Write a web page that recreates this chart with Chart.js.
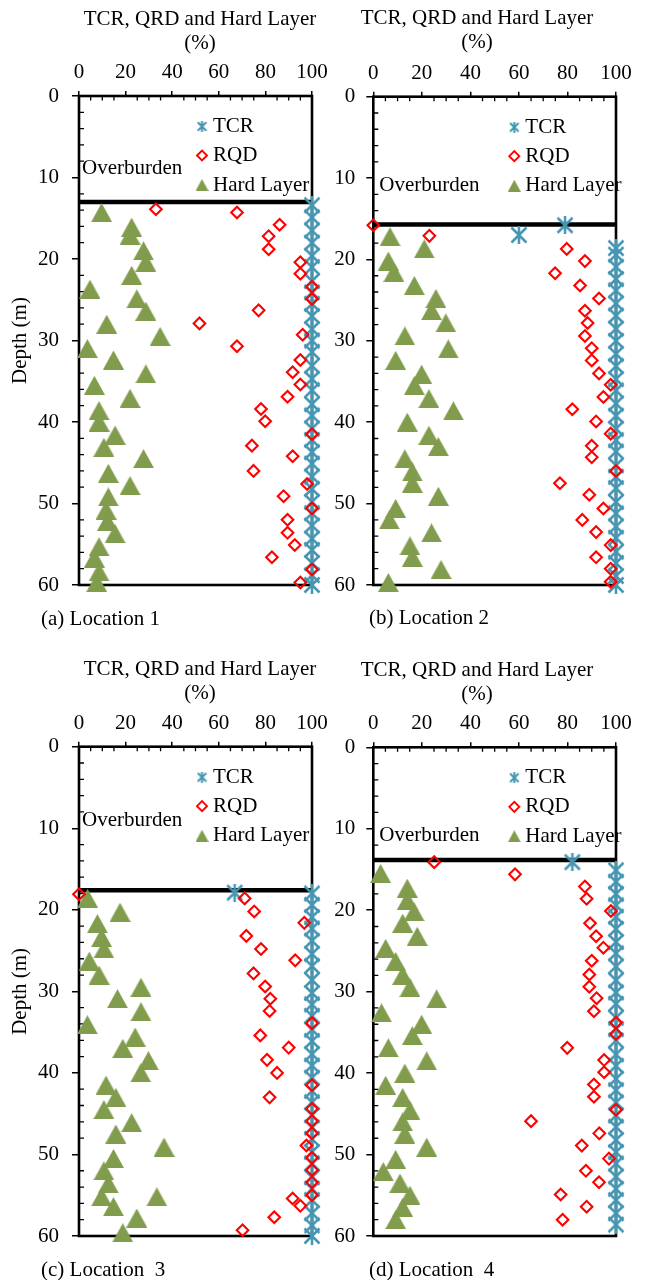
<!DOCTYPE html>
<html><head><meta charset="utf-8">
<script src="https://cdn.jsdelivr.net/npm/chart.js@4.4.1/dist/chart.umd.min.js"></script>
<style>
html,body{margin:0;padding:0;background:#fff;}
.wrap{position:relative;width:645px;height:1280px;overflow:hidden;background:#fff;}
canvas{position:absolute;}
.t{position:absolute;font-family:"Liberation Serif","Times New Roman",Times,serif;font-size:21px;line-height:24px;color:#000;white-space:pre;}
.xt{text-align:center;width:300px;}
</style></head>
<body><div class="wrap">
<canvas id="c1" width="340" height="640" style="left:0;top:0"></canvas>
<canvas id="c2" width="323" height="640" style="left:322px;top:0"></canvas>
<canvas id="c3" width="340" height="640" style="left:0;top:640px"></canvas>
<canvas id="c4" width="323" height="640" style="left:322px;top:640px"></canvas>
<div class="t xt" style="left:50px;top:6px">TCR, QRD and Hard Layer
(%)</div>
<div class="t xt" style="left:327px;top:5px">TCR, QRD and Hard Layer
(%)</div>
<div class="t xt" style="left:50px;top:656px">TCR, QRD and Hard Layer
(%)</div>
<div class="t xt" style="left:327px;top:657px">TCR, QRD and Hard Layer
(%)</div>
<div class="t" style="left:41px;top:606px">(a) Location 1</div>
<div class="t" style="left:369px;top:605px">(b) Location 2</div>
<div class="t" style="left:41px;top:1257px">(c) Location  3</div>
<div class="t" style="left:369px;top:1257px">(d) Location  4</div>
</div>
<script>
// ---------- tick labels ----------
const pctTicks = [0, 20, 40, 60, 80, 100];
const depthTicks = [0, 10, 20, 30, 40, 50, 60];
const seriesNames = ['TCR', 'RQD', 'Hard Layer'];
const zoneLabel = 'Overburden';
const overburden = [13.0, 15.7, 17.6, 13.85];

// ---------- Location 1 ----------
const tcrDepth1 = [13.4,14.9,16.5,18.0,19.6,21.0,22.7,24.1,25.5,27.0,28.6,30.0,31.4,33.1,34.7,36.1,37.8,39.2,40.8,42.2,43.7,45.1,46.7,48.2,49.8,51.2,52.7,54.3,55.7,57.3,58.8,60.0];
const tcr1 = [100,100,100,100,100,100,100,100,100,100,100,100,100,100,100,100,100,100,100,100,100,100,100,100,100,100,100,100,100,100,100,100];
const rqdDepth1 = [13.9,14.3,15.8,17.2,18.8,20.4,21.8,23.4,24.9,26.3,27.9,29.3,30.7,32.4,33.9,35.4,36.9,38.4,39.9,41.5,42.9,44.2,46.0,47.6,49.1,50.6,52.0,53.6,55.1,56.6,58.1,59.7];
const rqd1 = [33.0,67.8,86.1,81.4,81.4,95.0,95.0,100,100,77.1,51.7,96.0,67.8,95.0,91.7,95.0,89.5,78.1,79.9,100,74.2,91.7,74.9,97.9,87.8,100,89.5,89.5,92.6,82.8,100,95.0];
const hardDepth1 = [14.3,16.1,17.1,19.0,20.4,22.0,23.7,24.9,26.4,28.0,29.5,31.0,32.4,34.1,35.5,37.1,38.6,40.0,41.6,43.1,44.5,46.3,47.8,49.2,50.8,52.2,53.7,55.3,56.7,58.4,59.7];
const hard1 = [9.7,22.6,21.9,27.7,28.7,22.6,4.7,24.8,28.7,11.9,34.8,3.6,14.8,28.7,6.6,21.9,8.6,8.6,15.5,10.7,27.7,12.6,21.9,12.6,11.6,12.2,15.5,8.6,6.6,8.6,7.6];

// ---------- Location 2 ----------
const tcrDepth2 = [15.8,17.0,18.6,19.4,20.9,22.4,23.8,25.4,26.9,28.5,30.0,31.6,33.1,34.7,36.1,37.7,39.2,40.8,42.2,43.6,45.3,46.7,48.1,49.8,51.2,52.8,54.2,55.9,57.3,58.9,60.0];
const tcr2 = [79,60,100,100,100,100,100,100,100,100,100,100,100,100,100,100,100,100,100,100,100,100,100,100,100,100,100,100,100,100,100];
const rqdDepth2 = [15.8,17.1,18.7,20.2,21.7,23.2,24.8,26.3,27.8,29.4,30.9,32.4,34.0,35.4,36.9,38.4,39.9,41.4,42.9,44.3,46.0,47.5,48.9,50.6,52.0,53.5,55.1,56.6,58.0,59.6];
const rqd2 = [0,23.1,79.7,87.2,74.9,85.2,93.0,87.2,88.3,87.2,90,90,93,97.8,94.8,82,91.8,97.8,90,90,100,76.9,89,94.8,86.1,91.8,97.8,91.8,97.8,97.8];
const hardDepth2 = [17.2,18.7,20.2,21.6,23.2,24.8,26.3,27.8,29.4,31.0,32.4,34.1,35.5,37.1,38.6,40.0,41.6,43.0,44.5,46.1,47.5,49.1,50.6,52.0,53.6,55.2,56.6,58.1,59.7];
const hard2 = [6.9,21.0,6.2,8.5,16.9,25.8,24.0,29.9,13.0,30.9,9.2,19.9,16.9,22.9,33.0,14.0,22.9,26.8,13.0,16.1,16.1,26.8,9.2,6.6,24.0,15.1,16.1,27.9,6.2];

// ---------- Location 3 ----------
const tcrDepth3 = [17.9,18.0,19.4,20.9,22.3,23.8,25.4,26.9,28.6,30.2,31.6,33.0,34.7,36.1,37.7,39.1,40.6,42.2,43.6,45.2,46.7,48.1,49.7,51.1,52.8,54.2,55.6,57.2,58.7,60.0];
const tcr3 = [66.8,100,100,100,100,100,100,100,100,100,100,100,100,100,100,100,100,100,100,100,100,100,100,100,100,100,100,100,100,100];
const rqdDepth3 = [18.1,18.6,20.2,21.6,23.2,24.8,26.2,27.8,29.4,30.9,32.4,33.9,35.4,36.9,38.4,40.0,41.5,43.0,44.4,45.9,47.4,48.9,50.4,51.9,53.4,55.0,55.4,56.3,57.7,59.3];
const rqd3 = [0,71.1,75.2,96.7,71.8,78.1,92.8,74.9,79.9,82.1,81.8,100,77.8,90,80.7,85,100,81.8,100,100,100,97.6,100,100,100,100,91.7,95,83.8,70.2];
const hardDepth3 = [18.6,20.3,21.7,23.4,24.8,26.3,28.0,29.5,30.9,32.5,34.1,35.6,37.0,38.5,40.0,41.5,43.0,44.5,46.1,47.5,49.1,50.5,52.0,53.6,55.2,55.2,56.4,57.8,59.6];
const hard3 = [3.7,17.6,7.9,9.7,10.7,4.4,8.6,26.6,16.5,26.6,3.6,24.1,18.8,29.8,26.5,11.6,15.8,10.7,22.6,15.8,36.5,14.8,10.7,12.6,9.7,33.4,14.8,24.8,18.8];

// ---------- Location 4 ----------
const tcrDepth4 = [14.1,15.1,16.5,18.0,19.4,20.8,22.3,23.9,25.3,26.9,28.6,30.1,31.5,33.2,34.6,36.0,37.7,39.1,40.7,42.1,43.6,45.2,46.6,48.2,49.7,51.1,52.7,54.2,55.6,57.2,58.6];
const tcr4 = [82,100,100,100,100,100,100,100,100,100,100,100,100,100,100,100,100,100,100,100,100,100,100,100,100,100,100,100,100,100,100];
const rqdDepth4 = [14.1,15.6,17.1,18.6,20.1,21.6,23.2,24.6,26.2,27.9,29.4,30.8,32.4,33.8,35.2,36.9,38.4,39.9,41.4,42.9,44.5,45.9,47.4,48.9,50.5,52.0,53.4,54.9,56.4,58.0];
const rqd4 = [25.1,58.4,87.2,87.9,97.9,89.3,91.8,94.8,90,89,89,92,90.9,100,100,79.9,95.1,95.1,90.9,90.9,100,65,93.1,85.9,97.1,87.6,93,77.2,87.9,78];
const hardDepth4 = [15.5,17.3,18.8,20.2,21.6,23.2,24.7,26.3,28.0,29.5,30.9,32.6,34.0,35.4,36.9,38.5,40.0,41.5,43.0,44.6,46.0,47.5,49.1,50.6,52.1,53.5,55.0,56.5,58.0];
const hard4 = [3,14,14,16.8,12.1,18.1,5.1,9.2,12.1,15.1,26.1,3.4,19.9,16.1,6.2,22,13,5.1,12.1,15.1,12.1,13,22,9.2,4.1,11,15.1,12.1,9.2];

// ---------- styles ----------
const FONT_FAMILY = '"Liberation Serif", "Times New Roman", Times, serif';
const TEAL = '#4596b3', RED = '#ff0000', OLIVE = '#809c4c';

function starMarker(size, lw, color) {
  const c = document.createElement('canvas'); c.width = size; c.height = size;
  const g = c.getContext('2d'); g.strokeStyle = color; g.lineWidth = lw;
  const a = lw * 0.6, b = size - lw * 0.6;
  g.beginPath();
  g.moveTo(a, a); g.lineTo(b, b);
  g.moveTo(b, a); g.lineTo(a, b);
  g.moveTo(size / 2, 0); g.lineTo(size / 2, size);
  g.stroke();
  return c;
}
function triMarker(w, h, color) {
  const c = document.createElement('canvas'); c.width = w; c.height = h;
  const g = c.getContext('2d'); g.fillStyle = color;
  g.beginPath(); g.moveTo(w / 2, 0); g.lineTo(w, h); g.lineTo(0, h); g.closePath(); g.fill();
  return c;
}
const starBig = starMarker(18, 2.5, TEAL);
const starSmall = starMarker(11, 2, TEAL);
const triBig = triMarker(21, 19, OLIVE);
const triSmall = triMarker(13, 12, OLIVE);

const framePlugin = {
  id: 'frame',
  beforeDatasetsDraw(chart) {
    const ctx = chart.ctx, a = chart.chartArea;
    const xs = chart.scales.x, ys = chart.scales.y;
    ctx.save();
    ctx.strokeStyle = '#000';
    ctx.lineWidth = 1.3;
    ctx.beginPath();
    for (let v = 5; v < 100; v += 5) {
      if (v % 20 === 0) continue;
      const px = xs.getPixelForValue(v);
      ctx.moveTo(px, a.top); ctx.lineTo(px, a.top + 4.5);
    }
    for (let v = 2; v < 60; v += 2) {
      if (v % 10 === 0) continue;
      const py = ys.getPixelForValue(v);
      ctx.moveTo(a.left, py); ctx.lineTo(a.left + 5, py);
    }
    ctx.stroke();
    ctx.lineWidth = 2.6;
    ctx.strokeRect(a.left, a.top, a.right - a.left, a.bottom - a.top);
    ctx.restore();
  },
  afterDatasetsDraw(chart, args, opts) {
    const ctx = chart.ctx, a = chart.chartArea;
    ctx.save();
    ctx.font = '21px ' + FONT_FAMILY;
    ctx.fillStyle = '#000';
    ctx.textBaseline = 'middle';
    ctx.textAlign = 'left';
    // overburden label
    ctx.fillText(opts.zone, a.left + opts.obX, a.top + opts.obY);
    // legend
    const mx = a.left + opts.legX;
    const rows = [30.5, 59.5, 89];
    chart.data.datasets.slice(0, 3).forEach((ds, i) => {
      const my = a.top + rows[i];
      if (i === 0) ctx.drawImage(starSmall, mx - 5.5, my - 5.5);
      else if (i === 2) ctx.drawImage(triSmall, mx - 6.5, my - 6);
      else {
        ctx.beginPath();
        ctx.moveTo(mx - 5, my); ctx.lineTo(mx, my - 5); ctx.lineTo(mx + 5, my); ctx.lineTo(mx, my + 5); ctx.closePath();
        ctx.strokeStyle = RED; ctx.lineWidth = 1.9; ctx.stroke();
      }
      ctx.fillStyle = '#000';
      ctx.fillText(ds.label, mx + 11, my);
    });
    ctx.restore();
  }
};

const panels = [
  {id:'c1', tcr:tcr1, tcrDepth:tcrDepth1, rqd:rqd1, rqdDepth:rqdDepth1, hard:hard1, hardDepth:hardDepth1, ob:overburden[0],
   left:79, top:96, padR:28, padB:55, yPad:13, yTitle:true, legX:123, obX:3, obY:72.3},
  {id:'c2', tcr:tcr2, tcrDepth:tcrDepth2, rqd:rqd2, rqdDepth:rqdDepth2, hard:hard2, hardDepth:hardDepth2, ob:overburden[1],
   left:51.3, top:96.7, padR:29, padB:55, yPad:11, yTitle:false, legX:141, obX:6, obY:88.3},
  {id:'c3', tcr:tcr3, tcrDepth:tcrDepth3, rqd:rqd3, rqdDepth:rqdDepth3, hard:hard3, hardDepth:hardDepth3, ob:overburden[2],
   left:79, top:106.7, padR:28, padB:44, yPad:13, yTitle:true, legX:123, obX:3, obY:73.3},
  {id:'c4', tcr:tcr4, tcrDepth:tcrDepth4, rqd:rqd4, rqdDepth:rqdDepth4, hard:hard4, hardDepth:hardDepth4, ob:overburden[3],
   left:51.3, top:107.3, padR:29, padB:44, yPad:11, yTitle:false, legX:141, obX:6, obY:87.7}
];

const pts = (xs, ys) => xs.map((x, i) => ({x: x, y: ys[i]}));
const tickFont = {family: FONT_FAMILY, size: 21};

panels.forEach(P => {
  new Chart(document.getElementById(P.id), {
    type: 'scatter',
    data: {
      datasets: [
        {label: seriesNames[0], data: pts(P.tcr, P.tcrDepth), pointStyle: starBig, pointRadius: 9, order: 1, clip: false},
        {label: seriesNames[1], data: pts(P.rqd, P.rqdDepth), pointStyle: 'rectRot', pointRadius: 5.8, borderColor: RED, borderWidth: 2.1, backgroundColor: 'rgba(0,0,0,0)', order: 0, clip: false},
        {label: seriesNames[2], data: pts(P.hard, P.hardDepth), pointStyle: triBig, pointRadius: 10, order: 2, clip: false},
        {label: zoneLabel, data: [{x: 0, y: P.ob}, {x: 100, y: P.ob}], showLine: true, borderColor: '#000', borderWidth: 4.5, pointRadius: 0, order: 3, clip: false}
      ]
    },
    options: {
      responsive: false, animation: false, devicePixelRatio: 1, events: [],
      layout: {padding: {left: 0, top: 0, right: P.padR, bottom: P.padB}},
      plugins: {legend: {display: false}, tooltip: {enabled: false},
                frame: {legX: P.legX, obX: P.obX, obY: P.obY, zone: zoneLabel}},
      scales: {
        x: {
          type: 'linear', position: 'top', min: 0, max: 100,
          afterBuildTicks: s => { s.ticks = pctTicks.map(v => ({value: v})); },
          afterFit: s => { s.height = P.top; s.paddingLeft = 0; s.paddingRight = 0; },
          ticks: {font: tickFont, color: '#000', padding: 6, maxRotation: 0, autoSkip: false},
          grid: {drawOnChartArea: false, drawTicks: true, tickLength: 5, color: '#000', lineWidth: 1.5},
          border: {display: false}
        },
        y: {
          type: 'linear', reverse: true, min: 0, max: 60,
          afterBuildTicks: s => { s.ticks = depthTicks.map(v => ({value: v})); },
          afterFit: s => { s.width = P.left; s.paddingTop = 0; s.paddingBottom = 0; },
          ticks: {font: tickFont, color: '#000', padding: P.yPad, autoSkip: false},
          grid: {drawOnChartArea: false, drawTicks: true, tickLength: 7, color: '#000', lineWidth: 1.5},
          border: {display: false},
          title: {display: P.yTitle, text: 'Depth (m)', font: tickFont, color: '#000', padding: {top: 8, bottom: 0}}
        }
      }
    },
    plugins: [framePlugin]
  });
});
</script>
</body></html>
